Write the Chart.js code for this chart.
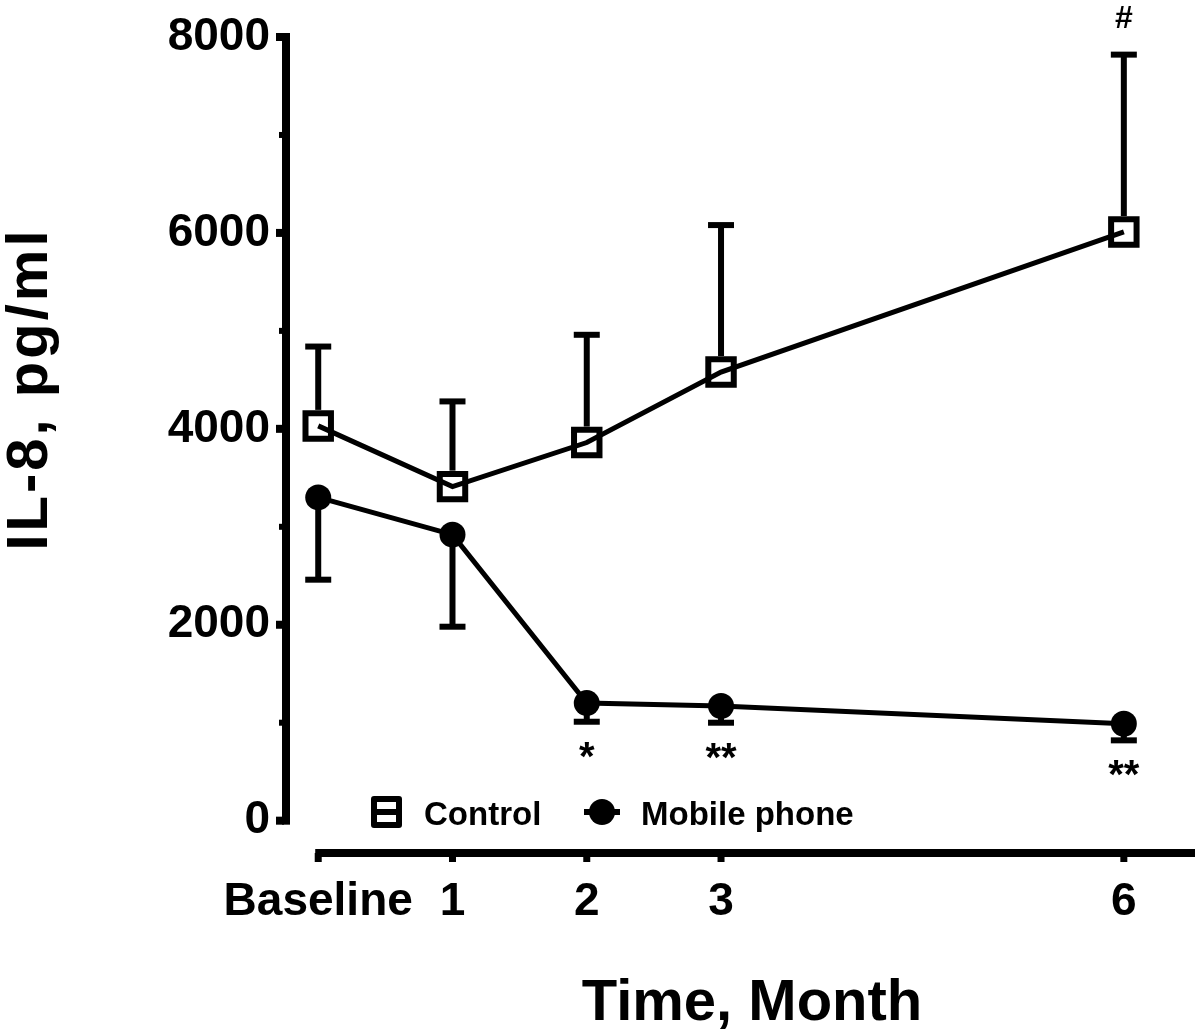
<!DOCTYPE html>
<html>
<head>
<meta charset="utf-8">
<script src="https://cdn.jsdelivr.net/npm/chart.js@4.4.1/dist/chart.umd.min.js"></script>
<style>
  html, body { margin: 0; padding: 0; background: #fff; }
  #wrap { width: 1200px; height: 1035px; }
</style>
</head>
<body>
<div id="wrap"><canvas id="c" width="1200" height="1035"></canvas></div>
<script>
// ---- Data ----
const months = [0, 1, 2, 3, 6];
const xTickLabels = ['Baseline', '1', '2', '3', '6'];
const yTicks = [0, 2000, 4000, 6000, 8000];
const yMinorTicks = [1000, 3000, 5000, 7000];

const controlMean  = [4030, 3410, 3860, 4580, 6010];
const controlUpper = [4840, 4280, 4960, 6080, 7820];
const mobileMean   = [3300, 2920, 1200, 1170, 990];
const mobileLower  = [2460, 1980, 1010, 1000, 820];

const seriesLabels = ['Control', 'Mobile phone'];
const xTitle = 'Time, Month';
const yTitle = 'IL-8, pg/ml';

// significance marks
const markMonths = [2, 3, 6, 6];
const markTexts  = ['*', '**', '**', '#'];
const markSeries = ['mobile', 'mobile', 'mobile', 'control'];

const FONT = "'Liberation Sans', Arial, sans-serif";

const toPts = (ys) => months.map((m, i) => ({ x: m, y: ys[i] }));

const errorBarsPlugin = {
  id: 'errorBars',
  beforeDatasetsDraw(chart) {
    const ctx = chart.ctx, xs = chart.scales.x, ys = chart.scales.y;
    ctx.save();
    ctx.strokeStyle = '#000';
    ctx.lineWidth = 6;
    ctx.lineCap = 'butt';
    const cap = 13;
    months.forEach((m, i) => {
      const px = xs.getPixelForValue(m);
      let y0 = ys.getPixelForValue(controlMean[i]) - 16;
      let y1 = ys.getPixelForValue(controlUpper[i]);
      ctx.beginPath(); ctx.moveTo(px, y0); ctx.lineTo(px, y1); ctx.stroke();
      ctx.beginPath(); ctx.moveTo(px - cap, y1); ctx.lineTo(px + cap, y1); ctx.stroke();
      y0 = ys.getPixelForValue(mobileMean[i]);
      y1 = ys.getPixelForValue(mobileLower[i]);
      ctx.beginPath(); ctx.moveTo(px, y0); ctx.lineTo(px, y1); ctx.stroke();
      ctx.beginPath(); ctx.moveTo(px - cap, y1); ctx.lineTo(px + cap, y1); ctx.stroke();
    });
    ctx.restore();
  }
};

const axesPlugin = {
  id: 'customAxes',
  afterDraw(chart) {
    const ctx = chart.ctx, xs = chart.scales.x, ys = chart.scales.y;
    const ca = chart.chartArea;
    ctx.save();
    ctx.fillStyle = '#000';
    // Y axis line
    const yTop = ys.getPixelForValue(8000), yBot = ys.getPixelForValue(0);
    const axX = ca.left;
    ctx.fillRect(axX - 4, yTop - 4, 8, yBot - yTop + 8);
    yTicks.forEach(v => {
      const py = ys.getPixelForValue(v);
      ctx.fillRect(axX - 10, py - 4, 8, 8);
    });
    yMinorTicks.forEach(v => {
      const py = ys.getPixelForValue(v);
      ctx.fillRect(axX - 7, py - 3, 5, 6);
    });
    // X axis line
    const xLeft = xs.getPixelForValue(0) - 3;
    const lineY = ca.bottom;
    ctx.fillRect(xLeft, lineY - 4, ca.right - xLeft, 8);
    months.forEach(m => {
      const px = xs.getPixelForValue(m);
      ctx.fillRect(px - 3.5, lineY, 7, 9);
    });

    // significance marks
    markMonths.forEach((m, k) => {
      const i = months.indexOf(m);
      const px = xs.getPixelForValue(m);
      ctx.textAlign = 'center';
      ctx.textBaseline = 'alphabetic';
      if (markSeries[k] === 'mobile') {
        const cy = ys.getPixelForValue(mobileLower[i]);
        ctx.font = 'bold 40px ' + FONT;
        ctx.fillText(markTexts[k], px, cy + 48);
      } else {
        const cy = ys.getPixelForValue(controlUpper[i]);
        ctx.font = 'bold 32px ' + FONT;
        ctx.fillText(markTexts[k], px, cy - 27);
      }
    });

    // legend
    ctx.font = 'bold 33px ' + FONT;
    ctx.textAlign = 'left';
    ctx.textBaseline = 'alphabetic';
    const ly = 812;
    ctx.strokeStyle = '#000';
    ctx.lineWidth = 6;
    ctx.lineJoin = 'round';
    ctx.strokeRect(374, ly - 13, 25, 26);
    ctx.beginPath(); ctx.moveTo(372, ly); ctx.lineTo(401, ly); ctx.stroke();
    ctx.fillText(chart.data.datasets[0].label, 424, ly + 13);
    ctx.beginPath(); ctx.moveTo(584, ly); ctx.lineTo(620, ly); ctx.stroke();
    ctx.beginPath(); ctx.arc(602, ly, 13, 0, Math.PI * 2); ctx.fill();
    ctx.fillText(chart.data.datasets[1].label, 641, ly + 13);

    // axis titles
    ctx.font = 'bold 58px ' + FONT;
    ctx.textAlign = 'center';
    ctx.textBaseline = 'alphabetic';
    ctx.fillText(xTitle, 752, 1020);

    ctx.save();
    ctx.translate(47, 390);
    ctx.rotate(-Math.PI / 2);
    ctx.font = 'bold 58px ' + FONT;
    try { ctx.letterSpacing = '3px'; } catch (e) {}
    ctx.textAlign = 'center';
    ctx.fillText(yTitle, 1, 0);
    ctx.restore();

    ctx.restore();
  }
};

new Chart(document.getElementById('c'), {
  type: 'line',
  data: {
    datasets: [
      {
        label: seriesLabels[0],
        data: toPts(controlMean),
        borderColor: '#000',
        borderWidth: 5,
        pointStyle: 'rect',
        pointRadius: 18,
        pointBorderWidth: 6,
        pointBorderColor: '#000',
        pointBackgroundColor: 'rgba(0,0,0,0)',
        tension: 0,
        clip: false
      },
      {
        label: seriesLabels[1],
        data: toPts(mobileMean),
        borderColor: '#000',
        borderWidth: 5,
        pointStyle: 'circle',
        pointRadius: 13,
        pointBorderWidth: 0,
        pointBackgroundColor: '#000',
        tension: 0,
        clip: false
      }
    ]
  },
  options: {
    responsive: false,
    animation: false,
    devicePixelRatio: 1,
    layout: { autoPadding: false, padding: { left: 0, right: 5, top: 37, bottom: 0 } },
    plugins: { legend: { display: false }, tooltip: { enabled: false } },
    scales: {
      x: {
        type: 'linear',
        min: -0.24,
        max: 6.53,
        grid: { display: false, drawTicks: false },
        border: { display: false },
        afterBuildTicks: (s) => { s.ticks = months.map(v => ({ value: v })); },
        afterFit: (s) => { s.height = 182; s.paddingLeft = 0; s.paddingRight = 0; },
        ticks: {
          autoSkip: false,
          maxRotation: 0,
          padding: 22,
          color: '#000',
          font: { family: FONT, size: 46, weight: 'bold' },
          callback: (v) => { const i = months.indexOf(v); return i >= 0 ? xTickLabels[i] : ''; }
        },
        title: { display: false }
      },
      y: {
        type: 'linear',
        min: -330,
        max: 8000,
        grid: { display: false, drawTicks: false },
        border: { display: false },
        afterBuildTicks: (s) => { s.ticks = yTicks.map(v => ({ value: v })); },
        afterFit: (s) => { s.width = 286; s.paddingTop = 0; s.paddingBottom = 0; },
        ticks: {
          padding: 16,
          color: '#000',
          font: { family: FONT, size: 46, weight: 'bold' },
          callback: (v) => String(v)
        },
        title: { display: false }
      }
    }
  },
  plugins: [errorBarsPlugin, axesPlugin]
});
</script>
</body>
</html>
